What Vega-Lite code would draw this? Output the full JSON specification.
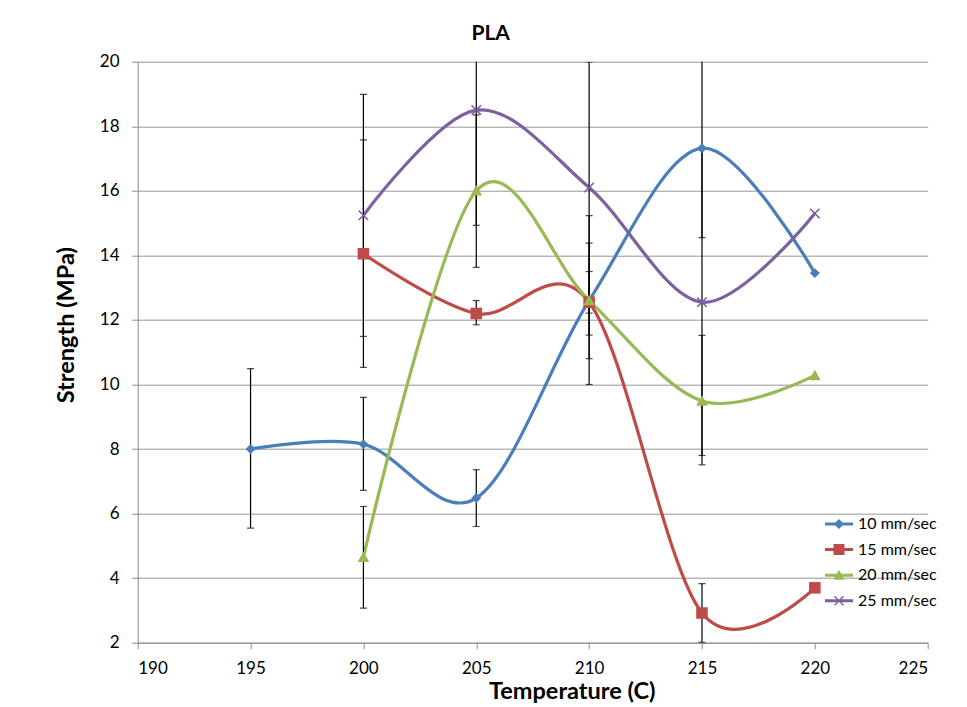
{
  "$schema": "https://vega.github.io/schema/vega-lite/v6.json",
  "width": 790,
  "height": 581,
  "autosize": {"type": "none"},
  "padding": {"left": 137.7, "top": 61.7, "right": 39.3, "bottom": 64.3},
  "background": "white",
  "title": {"text": "PLA", "font": "Lato", "fontSize": 21, "fontWeight": "bold", "color": "black", "anchor": "middle", "dx": -42, "dy": 28, "offset": 20, "baseline": "alphabetic"},
  "config": {"view": {"stroke": null}, "font": "Lato"},
  "data": {
    "values": [
      {"series": "10 mm/sec", "temp": 195, "strength": 8.0, "lo": 5.55, "hi": 10.49},
      {"series": "10 mm/sec", "temp": 200, "strength": 8.15, "lo": 6.72, "hi": 9.6},
      {"series": "10 mm/sec", "temp": 205, "strength": 6.48, "lo": 5.6, "hi": 7.36},
      {"series": "10 mm/sec", "temp": 210, "strength": 12.6, "lo": 10.0, "hi": 15.23},
      {"series": "10 mm/sec", "temp": 215, "strength": 17.32, "lo": 14.55, "hi": 20.09},
      {"series": "10 mm/sec", "temp": 220, "strength": 13.45, "lo": null, "hi": null},
      {"series": "15 mm/sec", "temp": 200, "strength": 14.05, "lo": 10.53, "hi": 17.58},
      {"series": "15 mm/sec", "temp": 205, "strength": 12.2, "lo": 11.85, "hi": 12.6},
      {"series": "15 mm/sec", "temp": 210, "strength": 12.55, "lo": 11.53, "hi": 13.5},
      {"series": "15 mm/sec", "temp": 215, "strength": 2.92, "lo": 2.01, "hi": 3.83},
      {"series": "15 mm/sec", "temp": 220, "strength": 3.7, "lo": null, "hi": null},
      {"series": "20 mm/sec", "temp": 200, "strength": 4.65, "lo": 3.07, "hi": 6.22},
      {"series": "20 mm/sec", "temp": 205, "strength": 16.0, "lo": 13.63, "hi": 18.35},
      {"series": "20 mm/sec", "temp": 210, "strength": 12.6, "lo": 10.8, "hi": 14.38},
      {"series": "20 mm/sec", "temp": 215, "strength": 9.49, "lo": 7.51, "hi": 11.52},
      {"series": "20 mm/sec", "temp": 220, "strength": 10.28, "lo": null, "hi": null},
      {"series": "25 mm/sec", "temp": 200, "strength": 15.24, "lo": 11.49, "hi": 18.99},
      {"series": "25 mm/sec", "temp": 205, "strength": 18.5, "lo": 14.93, "hi": 22.07},
      {"series": "25 mm/sec", "temp": 210, "strength": 16.1, "lo": 12.21, "hi": 19.99},
      {"series": "25 mm/sec", "temp": 215, "strength": 12.55, "lo": 7.8, "hi": 17.3},
      {"series": "25 mm/sec", "temp": 220, "strength": 15.3, "lo": null, "hi": null}
    ]
  },
  "encoding": {
    "x": {
      "field": "temp", "type": "quantitative",
      "scale": {"domain": [190, 225], "nice": false, "zero": false},
      "axis": {
        "values": [190, 195, 200, 205, 210, 215, 220, 225],
        "title": "Temperature (C)", "grid": false,
        "domainColor": "#8c8c8c", "tickColor": "#8c8c8c", "tickSize": 6,
        "labelFont": "Lato", "labelFontSize": 17, "labelPadding": 12, "labelColor": "black",
        "titleFont": "Lato", "titleFontSize": 23.5, "titleFontWeight": "bold", "titleColor": "black",
        "titleX": 434, "titleY": 56, "titleBaseline": "alphabetic"
      }
    },
    "y": {"field": "strength", "type": "quantitative", "title": "Strength (MPa)"}
  },
  "layer": [
    {
      "mark": {"type": "line", "interpolate": "cardinal", "tension": 0, "strokeWidth": 3.2, "clip": true},
      "encoding": {
        "y": {
          "field": "strength", "type": "quantitative", "title": "Strength (MPa)",
          "scale": {"domain": [2, 20], "nice": false, "zero": false},
          "axis": {
            "values": [2, 4, 6, 8, 10, 12, 14, 16, 18, 20],
            "grid": true, "gridColor": "#969696", "gridWidth": 1,
            "domainColor": "#8c8c8c", "tickColor": "#8c8c8c", "tickSize": 6,
            "labelFont": "Lato", "labelFontSize": 17, "labelPadding": 12.7, "labelColor": "black",
            "titleFont": "Lato", "titleFontSize": 23.5, "titleFontWeight": "bold", "titleColor": "black",
            "titleX": -64.7, "titleY": 263, "titleBaseline": "alphabetic", "titleAngle": -90
          }
        },
        "color": {
          "field": "series", "type": "nominal",
          "scale": {"domain": ["10 mm/sec", "15 mm/sec", "20 mm/sec", "25 mm/sec"], "range": ["#4A7EBB", "#BE4B48", "#98B954", "#7D60A0"]},
          "legend": {
            "title": null, "orient": "none", "legendX": 693.3, "legendY": 454.3, "padding": 0,
            "labelFont": "Lato", "labelFontSize": 16, "labelColor": "black", "labelOffset": 11,
            "rowPadding": 9.6, "symbolSize": 100, "symbolStrokeWidth": 0, "symbolOpacity": 1
          }
        }
      }
    },
    {
      "transform": [{"filter": "datum.lo != null"}],
      "mark": {"type": "rule", "color": "black", "strokeWidth": 1.2, "clip": true},
      "encoding": {
        "y": {"field": "lo", "type": "quantitative", "title": "Strength (MPa)"},
        "y2": {"field": "hi"}
      }
    },
    {
      "transform": [{"filter": "datum.lo != null"}],
      "mark": {"type": "tick", "orient": "horizontal", "color": "black", "size": 7, "thickness": 1.2, "clip": true},
      "encoding": {
        "y": {"field": "lo", "type": "quantitative", "title": "Strength (MPa)"}
      }
    },
    {
      "transform": [{"filter": "datum.hi != null"}],
      "mark": {"type": "tick", "orient": "horizontal", "color": "black", "size": 7, "thickness": 1.2, "clip": true},
      "encoding": {
        "y": {"field": "hi", "type": "quantitative", "title": "Strength (MPa)"}
      }
    },
    {
      "transform": [{"filter": "datum.series == '10 mm/sec'"}],
      "mark": {"type": "point", "filled": true, "opacity": 1, "size": 110, "strokeWidth": 0, "color": "#4A7EBB", "shape": "M0,-0.95L0.95,0L0,0.95L-0.95,0Z"}
    },
    {
      "transform": [{"filter": "datum.series == '15 mm/sec'"}],
      "mark": {"type": "point", "filled": true, "opacity": 1, "size": 110, "strokeWidth": 0, "color": "#BE4B48", "shape": "M-1.1,-1.1H1.1V1.1H-1.1Z"}
    },
    {
      "transform": [{"filter": "datum.series == '20 mm/sec'"}],
      "mark": {"type": "point", "filled": true, "opacity": 1, "size": 110, "strokeWidth": 0, "color": "#98B954", "shape": "M0,-1.1L1.1,0.9H-1.1Z"}
    },
    {
      "transform": [{"filter": "datum.series == '25 mm/sec'"}],
      "mark": {"type": "point", "filled": true, "opacity": 1, "size": 110, "strokeWidth": 0, "color": "#7D60A0", "shape": "M-1,-0.8L-0.8,-1L0,-0.2L0.8,-1L1,-0.8L0.2,0L1,0.8L0.8,1L0,0.2L-0.8,1L-1,0.8L-0.2,0Z"}
    },
    {
      "transform": [{"filter": "datum.temp > 1000"}],
      "mark": {"type": "point", "filled": true, "opacity": 1, "size": 100, "strokeWidth": 0},
      "encoding": {
        "color": {"field": "series", "type": "nominal"},
        "shape": {
          "field": "series", "type": "nominal",
          "scale": {"domain": ["10 mm/sec", "15 mm/sec", "20 mm/sec", "25 mm/sec"], "range": [
            "M-2.8,-0.3H2.8V0.3H-2.8Z M0,-1L1,0L0,1L-1,0Z",
            "M-2.8,-0.3H2.8V0.3H-2.8Z M-1.1,-1.1H1.1V1.1H-1.1Z",
            "M-2.8,-0.3H2.8V0.3H-2.8Z M0,-1.1L1.1,0.9H-1.1Z",
            "M-2.8,-0.3H2.8V0.3H-2.8Z M-1,-0.8L-0.8,-1L0,-0.2L0.8,-1L1,-0.8L0.2,0L1,0.8L0.8,1L0,0.2L-0.8,1L-1,0.8L-0.2,0Z"
          ]},
          "legend": {
            "title": null, "orient": "none", "legendX": 693.3, "legendY": 454.3, "padding": 0,
            "labelFont": "Lato", "labelFontSize": 16, "labelColor": "black", "labelOffset": 11,
            "rowPadding": 9.6, "symbolSize": 100, "symbolStrokeWidth": 0, "symbolOpacity": 1
          }
        }
      }
    }
  ]
}
